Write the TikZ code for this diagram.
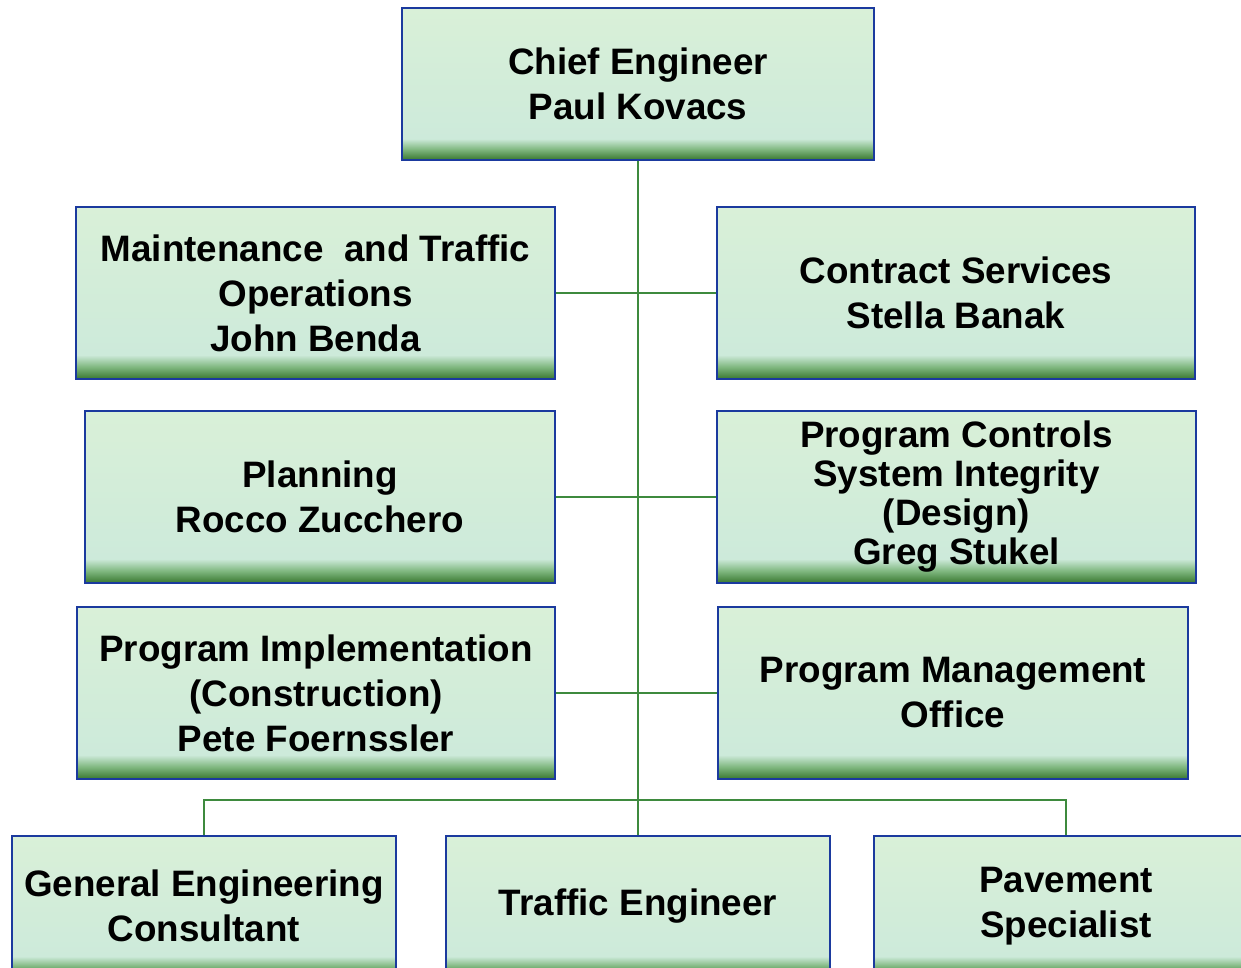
\documentclass[tikz,border=0pt]{standalone}
\usepackage{fontspec}
\setmainfont{Liberation Sans}
\definecolor{boxtop}{HTML}{D9F0D8}
\definecolor{boxbot}{HTML}{CDEADA}
\definecolor{bandmid}{HTML}{7FB77F}
\definecolor{banddark}{HTML}{38772F}
\definecolor{boxline}{HTML}{1B3A9E}
\definecolor{linkgreen}{HTML}{3E8A3E}
\pgfdeclareverticalshading{orgshade}{100bp}{color(0bp)=(banddark); color(25bp)=(banddark); color(28.5bp)=(bandmid); color(32bp)=(boxbot); color(75bp)=(boxtop); color(100bp)=(boxtop)}
\tikzset{
	orgbox/.style={draw=boxline, line width=1.4pt, shading=orgshade, align=center, font=\bfseries\fontsize{18.4}{22.5}\selectfont},
	orglink/.style={draw=linkgreen, line width=1.4pt}
}

\begin{document}
\begin{tikzpicture}[x=0.5pt, y=-0.5pt]
		\useasboundingbox (0,0) rectangle (1241,968);
		\clip (0,0) rectangle (1241,968);
		\node[orgbox, minimum width=236pt, minimum height=76pt] (chief) at (638,84) {Chief Engineer\\Paul Kovacs};
		\node[orgbox, minimum width=239.5pt, minimum height=86pt] (maint) at (315.5,293) {Maintenance\ \ and Traffic\\Operations\\John Benda};
		\node[orgbox, minimum width=239pt, minimum height=86pt] (contract) at (956,293) {Contract Services\\Stella Banak};
		\node[orgbox, minimum width=235pt, minimum height=86pt] (planning) at (320,497) {Planning\\Rocco Zucchero};
		\node[orgbox, minimum width=239.5pt, minimum height=86pt, font=\bfseries\fontsize{18.4}{19.5}\selectfont] (progctrl) at (956.5,497) {Program Controls\\System Integrity\\(Design)\\Greg Stukel};
		\node[orgbox, minimum width=239pt, minimum height=86pt] (progimpl) at (316,693) {Program Implementation\\(Construction)\\Pete Foernssler};
		\node[orgbox, minimum width=235pt, minimum height=86pt] (pmo) at (953,693) {Program Management\\Office};
		\node[orgbox, minimum width=192pt, minimum height=70pt] (gec) at (204,906) {General Engineering\\Consultant};
		\node[orgbox, minimum width=192pt, minimum height=70pt] (traffic) at (638,906) {Traffic Engineer};
		\node[orgbox, minimum width=192pt, minimum height=70pt] (pavement) at (1066,906) {Pavement\\Specialist};
		\coordinate (bus) at (638,800);
		
		\draw[orglink] (chief.south) -- (traffic.north);
		\draw[orglink] (maint.east) -- (contract.west);
		\draw[orglink] (planning.east) -- (progctrl.west);
		\draw[orglink] (progimpl.east) -- (pmo.west);
		\draw[orglink] (gec.north) |- (bus) -| (pavement.north);
		
		\end{tikzpicture}
\end{document}
